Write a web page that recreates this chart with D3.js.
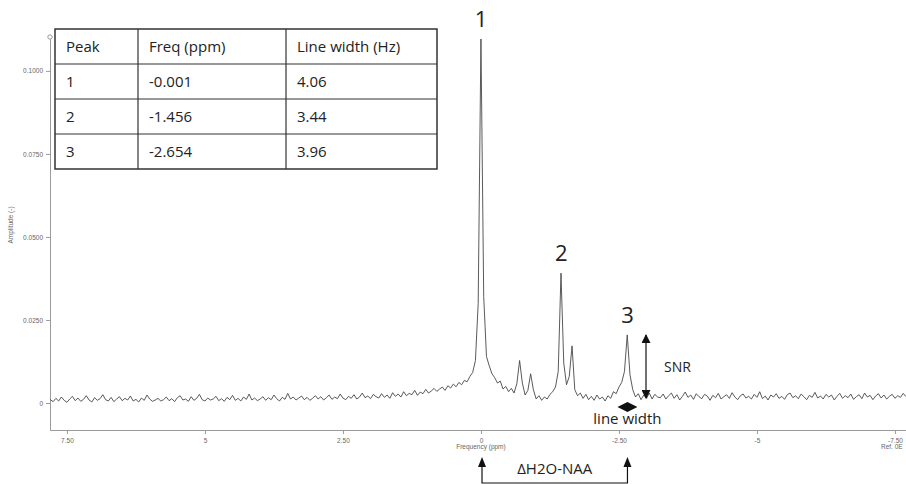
<!DOCTYPE html>
<html>
<head>
<meta charset="utf-8">
<script src="https://cdn.jsdelivr.net/npm/d3@7"></script>
<style>
    body { margin: 0; background: #fff; }
    svg { display: block; }
    .tick text { font-family: "Liberation Sans", sans-serif; }
</style>
</head>
<body>
<div class="chart"></div>
<script>
// table values
const tableHeader = ["Peak", "Freq (ppm)", "Line width (Hz)"];
const peakIds = ["1", "2", "3"];
const peakFreq = [-0.001, -1.456, -2.654];
const peakWidth = [4.06, 3.44, 3.96];

// axis ticks
const xTicks = [7.5, 5, 2.5, 0, -2.5, -5, -7.5];
const xTickLabels = ["7.50", "5", "2.50", "0", "-2.50", "-5", "-7.50"];
const yTicks = [0, 0.025, 0.05, 0.075, 0.1];
const yTickLabels = ["0", "0.0250", "0.0500", "0.0750", "0.1000"];

// spectrum, amplitude in 1e-4 units, sampled every 0.05 ppm
const ppmStep = 0.05;
const leftStart = 7.80;   // 7.80 -> 0.80 ppm
const ampLeft = [
    10, 4, 14, 6, 18, 8, 2, 12, 20, 7, 15, 5, 11, 22, 9, 3, 16, 8, 13, 25, 10, 6, 17, 4, 12, 19, 7, 14, 9, 21, 6,
    11, 3, 15, 8, 24, 12, 5, 9, 14, 6, 10, 18, 7, 13, 4, 16, 22, 9, 12, 5, 19, 8, 14, 26, 10, 6, 15, 9, 12, 20,
    7, 13, 5, 17, 10, 23, 8, 14, 6, 18, 11, 27, 9, 15, 7, 12, 19, 8, 16, 10, 24, 13, 6, 17, 11, 29, 12, 18, 9, 15,
    21, 10, 17, 8, 14, 22, 12, 19, 9, 16, 24, 11, 18, 13, 27, 15, 10, 20, 14, 25, 12, 18, 30, 16, 21, 13, 26, 19, 15, 28,
    17, 24, 14, 31, 20, 27, 18, 34, 22, 29, 25, 38, 23, 33, 28, 41, 30, 36, 44, 35
];
const peaksStart = 0.75;  // 0.75 -> -3.20 ppm
const ampPeaks = [
    42, 48, 38, 52, 45, 57, 49, 62, 55, 68,
    64, 80, 92, 128, 300, 1096, 320, 140, 112, 88,
    76, 60, 66, 42, 50, 34, 44, 30, 58, 128,
    60, 24, 38, 88, 40, 12, 22, 8, 18, 12,
    26, 34, 48, 95, 391, 120, 55, 80, 172, 40,
    22, 30, 14, 26, 10, 20, 8, 24, 12, 18,
    6, 22, 14, 34, 28, 48, 62, 95, 205, 85,
    40, 18, 28, 10, 24, 14, 30, 12, 26, 18
];
const rightStart = -3.25; // -3.25 -> -7.70 ppm
const ampRight = [
    16, 27, 12, 22, 30, 14, 25, 9, 20, 33, 17, 24, 11, 28, 19, 13, 26, 21, 8, 23, 16, 29, 12, 19, 25, 14, 31, 18, 10, 22,
    27, 15, 20, 12, 26, 17, 34, 13, 21, 9, 24, 18, 28, 14, 20, 11, 25, 30, 16, 22, 13, 27, 19, 10, 23, 17, 32, 15, 21, 12,
    26, 18, 24, 9, 20, 29, 14, 22, 16, 27, 11, 19, 25, 13, 30, 18, 23, 10, 21, 28, 15, 24, 12, 20, 26, 14, 22, 17, 29, 19
];

const W = 906, H = 484;
const svg = d3.select(".chart").append("svg")
    .attr("width", W)
    .attr("height", H);

const x = d3.scaleLinear().domain([7.807, -7.70]).range([50, 906]);
const y = d3.scaleLinear().domain([-0.00813, 0.1102]).range([430, 37]);

function toPoints(start, values) {
    return values.map((v, i) => ({ ppm: +(start - i * ppmStep).toFixed(2), amp: v * 1e-4 }));
}
const spectrum = toPoints(leftStart, ampLeft)
    .concat(toPoints(peaksStart, ampPeaks))
    .concat(toPoints(rightStart, ampRight));

// ---- axes
const axisColor = "#9a9a9a";
const labelColor = "#666";

const xAxis = svg.append("g")
    .attr("transform", "translate(0,430)")
    .call(d3.axisBottom(x).tickValues(xTicks).tickSize(4).tickSizeOuter(0)
        .tickFormat((d, i) => xTickLabels[i]));
const yAxis = svg.append("g")
    .attr("transform", "translate(50,0)")
    .call(d3.axisLeft(y).tickValues(yTicks).tickSize(4).tickSizeOuter(0)
        .tickFormat((d, i) => yTickLabels[i]));

[xAxis, yAxis].forEach(g => {
    g.select(".domain").attr("stroke", axisColor);
    g.selectAll(".tick line").attr("stroke", axisColor);
    g.selectAll(".tick text").attr("fill", labelColor).style("font-size", "6.5px");
});
xAxis.selectAll(".tick text").attr("dy", "0.9em");

svg.append("circle")
    .attr("cx", 50).attr("cy", 37).attr("r", 2.2)
    .attr("fill", "#fff").attr("stroke", axisColor);

svg.append("text")
    .attr("x", x(0)).attr("y", 449)
    .attr("text-anchor", "middle")
    .attr("fill", labelColor)
    .style("font", "6.5px 'Liberation Sans', sans-serif")
    .text("Frequency (ppm)");
svg.append("text")
    .attr("x", 881).attr("y", 449)
    .attr("fill", labelColor)
    .style("font", "6.5px 'Liberation Sans', sans-serif")
    .text("Ref. 0E");
svg.append("text")
    .attr("transform", "translate(13,225) rotate(-90)")
    .attr("text-anchor", "middle")
    .attr("fill", labelColor)
    .style("font", "6.5px 'Liberation Sans', sans-serif")
    .text("Amplitude (-)");

// ---- spectrum line
svg.append("path")
    .datum(spectrum)
    .attr("fill", "none")
    .attr("stroke", "#474747")
    .attr("stroke-width", 0.9)
    .attr("stroke-linejoin", "round")
    .attr("d", d3.line().x(d => x(d.ppm)).y(d => y(d.amp)));

// ---- peak numbers
const peakTops = peakFreq.map(f => d3.max(spectrum.filter(d => Math.abs(d.ppm - f) < 0.03), d => d.amp));
svg.selectAll(".peaklabel")
    .data(peakIds).enter()
    .append("text")
    .attr("class", "peaklabel")
    .attr("x", (d, i) => x(peakFreq[i]))
    .attr("y", (d, i) => y(peakTops[i]) - 12)
    .attr("text-anchor", "middle")
    .attr("fill", "#222")
    .style("font", "22px 'Open Sans', sans-serif")
    .text(d => d);

// ---- annotations
const annot = "#111";
const defs = svg.append("defs");
defs.append("marker")
    .attr("id", "head")
    .attr("viewBox", "0 0 10 10")
    .attr("refX", 9).attr("refY", 5)
    .attr("markerWidth", 9).attr("markerHeight", 9)
    .attr("markerUnits", "userSpaceOnUse")
    .attr("orient", "auto-start-reverse")
    .append("path")
    .attr("d", "M0,0 L10,5 L0,10 Z")
    .attr("fill", annot);

// SNR arrow beside peak 3
const snrX = x(-2.99);
svg.append("line")
    .attr("x1", snrX).attr("x2", snrX)
    .attr("y1", y(peakTops[2])).attr("y2", y(0.0015))
    .attr("stroke", annot).attr("stroke-width", 1.2)
    .attr("marker-start", "url(#head)")
    .attr("marker-end", "url(#head)");
svg.append("text")
    .attr("x", snrX + 18).attr("y", 372)
    .attr("fill", "#222")
    .style("font", "14px 'Open Sans', sans-serif")
    .text("SNR");

// line width diamond under peak 3
const lwX = x(peakFreq[2]);
svg.append("path")
    .attr("d", `M${lwX - 10},407 L${lwX},402 L${lwX + 10},407 L${lwX},412 Z`)
    .attr("fill", annot);
svg.append("text")
    .attr("x", lwX).attr("y", 424)
    .attr("text-anchor", "middle")
    .attr("fill", "#222")
    .style("font", "15px 'Open Sans', sans-serif")
    .text("line width");

// delta H2O-NAA bracket
const bx0 = x(peakFreq[0]) + 1, bx1 = x(peakFreq[2]);
svg.append("path")
    .attr("d", `M${bx0},460 L${bx0},483 L${bx1},483 L${bx1},460`)
    .attr("fill", "none")
    .attr("stroke", annot).attr("stroke-width", 1.2);
[bx0, bx1].forEach(bx => {
    svg.append("path")
        .attr("d", `M${bx - 4},467 L${bx},457 L${bx + 4},467 Z`)
        .attr("fill", annot);
});
svg.append("text")
    .attr("x", (bx0 + bx1) / 2).attr("y", 474)
    .attr("text-anchor", "middle")
    .attr("fill", "#222")
    .style("font", "15px 'Open Sans', sans-serif")
    .text("ΔH2O-NAA");

// ---- table
const colX = [55, 138, 286, 437];
const rowY = [29, 64, 99, 134, 169];
const tableRows = [tableHeader].concat(peakIds.map((p, i) => [p, peakFreq[i].toFixed(3), peakWidth[i].toFixed(2)]));

const table = svg.append("g");
table.append("rect")
    .attr("x", colX[0]).attr("y", rowY[0])
    .attr("width", colX[3] - colX[0]).attr("height", rowY[4] - rowY[0])
    .attr("fill", "#fff").attr("stroke", "#333").attr("stroke-width", 1.5);
table.selectAll(".hline")
    .data(rowY.slice(1, 4)).enter()
    .append("line")
    .attr("x1", colX[0]).attr("x2", colX[3])
    .attr("y1", d => d).attr("y2", d => d)
    .attr("stroke", "#333").attr("stroke-width", 1.2);
table.selectAll(".vline")
    .data(colX.slice(1, 3)).enter()
    .append("line")
    .attr("x1", d => d).attr("x2", d => d)
    .attr("y1", rowY[0]).attr("y2", rowY[4])
    .attr("stroke", "#333").attr("stroke-width", 1.2);

tableRows.forEach((row, r) => {
    table.selectAll(".cell" + r)
        .data(row).enter()
        .append("text")
        .attr("x", (d, c) => colX[c] + 11)
        .attr("y", (rowY[r] + rowY[r + 1]) / 2 + 5)
        .attr("fill", "#222")
        .style("font", "15px 'Open Sans', sans-serif")
        .text(d => d);
});
</script>
</body>
</html>
